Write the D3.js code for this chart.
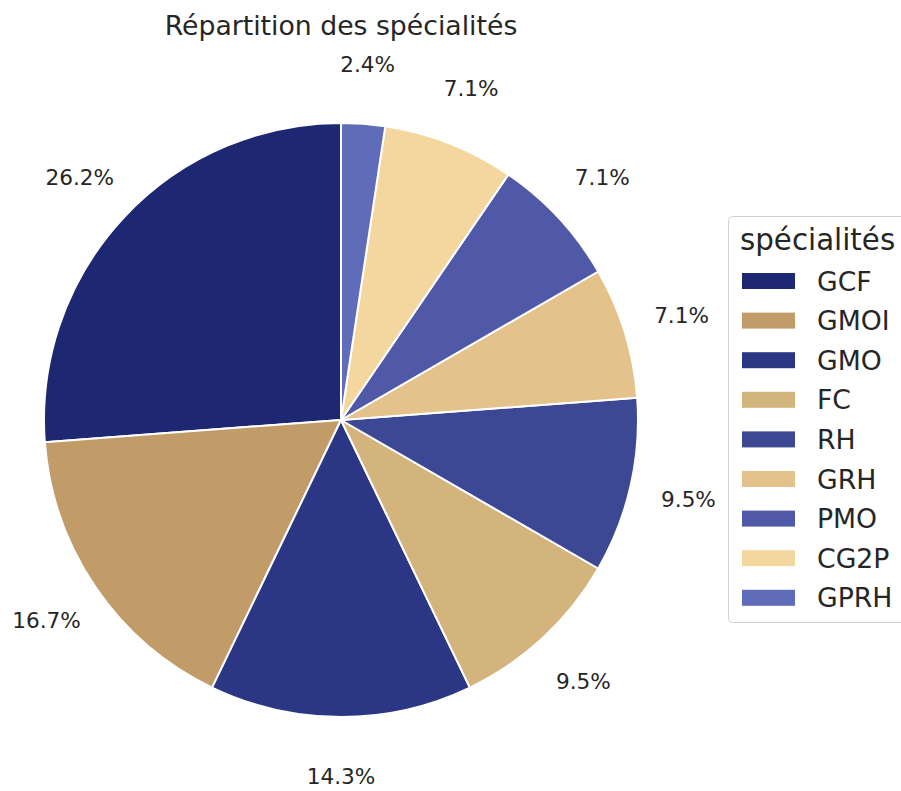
<!DOCTYPE html>
<html>
<head>
<meta charset="utf-8">
<script src="https://cdn.jsdelivr.net/npm/d3@7"></script>
<style>
  body { margin: 0; background: #fff; }
  text { font-family: "DejaVu Sans", sans-serif; fill: #262626; }
</style>
</head>
<body>
<div id="chart"></div>
<script>
// data (counts out of 42)
var specialites = ["GCF", "GMOI", "GMO", "FC", "RH", "GRH", "PMO", "CG2P", "GPRH"];
var effectifs = [11, 7, 6, 4, 4, 3, 3, 3, 1];
var couleurs = ["#1e2772", "#c19c68", "#2b3685", "#d2b47c", "#3c4894",
                "#e4c28b", "#5059a8", "#f3d79f", "#5e6cb9"];

var width = 901, height = 791;
var cx = 341, cy = 420, radius = 297;

var svg = d3.select("#chart").append("svg")
    .attr("width", width)
    .attr("height", height);

svg.append("text")
    .attr("x", cx)
    .attr("y", 35)
    .attr("text-anchor", "middle")
    .style("font-size", "26.7px")
    .text("Répartition des spécialités");

var total = d3.sum(effectifs);
var rows = specialites.map(function(s, i) { return {name: s, value: effectifs[i], color: couleurs[i]}; });

// counter-clockwise from 12 o'clock, like matplotlib startangle=90
var pie = d3.pie()
    .sort(null)
    .value(function(d) { return d.value; })
    .startAngle(0)
    .endAngle(-2 * Math.PI);

var arc = d3.arc().innerRadius(0).outerRadius(radius);
var labelArc = d3.arc().innerRadius(radius * 1.2).outerRadius(radius * 1.2);

var g = svg.append("g").attr("transform", "translate(" + cx + "," + cy + ")");

g.selectAll("path")
    .data(pie(rows))
    .join("path")
    .attr("d", arc)
    .attr("fill", function(d) { return d.data.color; })
    .attr("stroke", "#fff")
    .attr("stroke-width", 2)
    .attr("stroke-linejoin", "round");

g.selectAll("text.pct")
    .data(pie(rows))
    .join("text")
    .attr("class", "pct")
    .attr("transform", function(d) { return "translate(" + labelArc.centroid(d) + ")"; })
    .attr("text-anchor", "middle")
    .attr("dy", "0.35em")
    .style("font-size", "21.6px")
    .text(function(d) { return (d.data.value / total * 100).toFixed(1) + "%"; });

// legend
var legend = svg.append("g").attr("transform", "translate(728,216)");

legend.append("rect")
    .attr("x", 0.5).attr("y", 0.5)
    .attr("width", 200).attr("height", 406)
    .attr("rx", 4)
    .attr("fill", "#fff")
    .attr("stroke", "#d0d0d0")
    .attr("stroke-width", 1);

legend.append("text")
    .attr("x", 12)
    .attr("y", 34)
    .style("font-size", "29.3px")
    .text("spécialités");

var items = legend.selectAll("g.item")
    .data(rows)
    .join("g")
    .attr("class", "item")
    .attr("transform", function(d, i) { return "translate(14," + (65 + i * 39.6) + ")"; });

items.append("rect")
    .attr("x", 0).attr("y", -8)
    .attr("width", 53).attr("height", 16)
    .attr("fill", function(d) { return d.color; });

items.append("text")
    .attr("x", 75)
    .attr("dy", "0.36em")
    .style("font-size", "26.7px")
    .text(function(d) { return d.name; });
</script>
</body>
</html>
